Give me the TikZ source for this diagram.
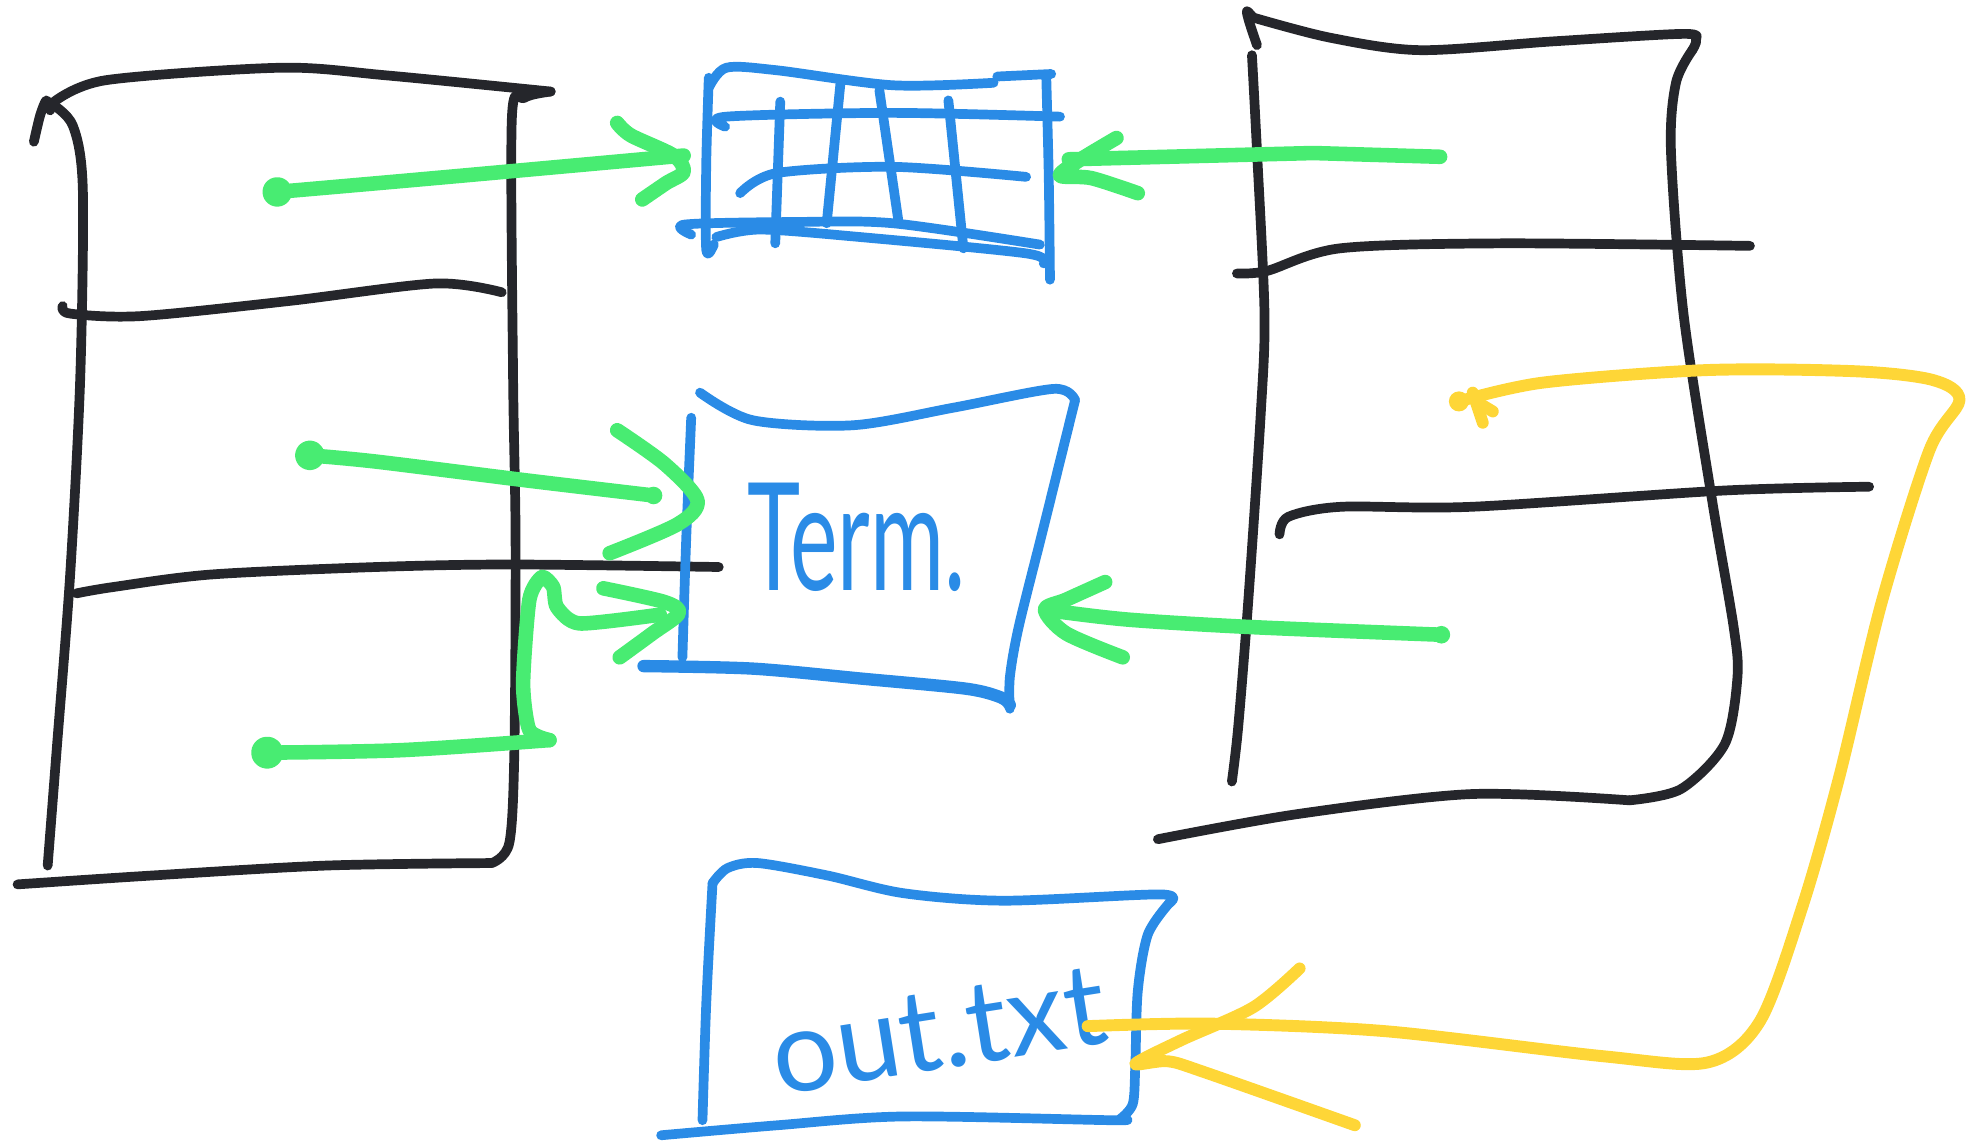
\documentclass[tikz,border=0pt]{standalone}
\usepackage{fontspec}
\setsansfont{Lato}
\usetikzlibrary{positioning, calc}
\definecolor{inkBlack}{RGB}{37, 38, 43}
\definecolor{inkBlue}{RGB}{42, 139, 230}
\definecolor{inkGreen}{RGB}{72, 236, 114}
\definecolor{inkYellow}{RGB}{254, 214, 55}
\tikzstyle{pen} = [line cap=round, line join=round]
\tikzstyle{blackpen} = [pen, draw=inkBlack, line width=2.2pt]
\tikzstyle{bluepen} = [pen, draw=inkBlue, line width=2.2pt]
\tikzstyle{greenpen} = [pen, draw=inkGreen, line width=3.3pt]
\tikzstyle{yellowpen} = [pen, draw=inkYellow, line width=2.7pt]
\tikzstyle{handtext} = [text=inkBlue, inner sep=0pt]

\begin{document}
\begin{tikzpicture}[x=0.01cm, y=-0.01cm]
	\useasboundingbox (0,0) rectangle (1568,910);

	% left table
	\draw[blackpen] plot[smooth] coordinates {(27,113) (32,92) (37,80) (40,88)};
	\draw[blackpen] plot[smooth] coordinates {(42,82) (84,64) (224,54) (307,60) (439,73)};
	\draw[blackpen] plot[smooth] coordinates {(439,73) (418,78) (408,95) (409,300) (411,430) (410,600) (406,672) (392,688)};
	\draw[blackpen] plot[smooth] coordinates {(40,82) (58,100) (66,150) (64,300) (56,457) (45,600) (38,690)};
	\draw[blackpen] plot[smooth] coordinates {(14,705) (120,698) (260,690) (392,688)};
	\draw[blackpen] plot[smooth] coordinates {(50,244) (56,250) (112,252) (230,240) (347,226) (400,233)};
	\draw[blackpen] plot[smooth] coordinates {(61,473) (90,468) (168,458) (300,452) (408,450) (573,452)};

	% right table
	\draw[blackpen] plot[smooth] coordinates {(1002,36) (996,18) (994,9) (999,14)};
	\draw[blackpen] plot[smooth] coordinates {(999,14) (1060,30) (1132,40) (1238,33) (1342,27) (1352,32) (1349,40)};
	\draw[blackpen] plot[smooth] coordinates {(1349,40) (1336,66) (1332,120) (1342,250) (1365,400) (1382,500) (1385,540) (1375,593) (1340,629) (1299,638)};
	\draw[blackpen] plot[smooth] coordinates {(1299,638) (1173,633) (1034,649) (923,669)};
	\draw[blackpen] plot[smooth] coordinates {(998,44) (1002,120) (1008,250) (1005,330) (995,480) (987,580) (982,623)};
	\draw[blackpen] plot[smooth] coordinates {(986,218) (1010,216) (1068,198) (1196,194) (1395,196)};
	\draw[blackpen] plot[smooth] coordinates {(1020,426) (1027,412) (1069,404) (1173,404) (1375,391) (1490,388)};

	% grid
	\draw[bluepen] plot[smooth] coordinates {(565,70) (579,54) (619,56) (712,68) (792,66)};
	\draw[bluepen] (795,61) -- (838,59);
	\draw[bluepen] plot[smooth] coordinates {(565,62) (563,130) (563,199) (569,195)};
	\draw[bluepen] plot[smooth] coordinates {(834,60) (836,140) (837,223)};
	\draw[bluepen] plot[smooth] coordinates {(578,101) (579,93) (712,90) (845,93)};
	\draw[bluepen] plot[smooth] coordinates {(590,154) (619,138) (712,133) (818,141)};
	\draw[bluepen] plot[smooth] coordinates {(551,187) (546,179) (632,177) (712,178) (829,195)};
	\draw[bluepen] plot[smooth] coordinates {(571,189) (606,183) (686,189) (818,202) (832,210)};
	\draw[bluepen] (622,81) -- (618,194);
	\draw[bluepen] (670,66) -- (659,178);
	\draw[bluepen] (701,72) -- (716,175);
	\draw[bluepen] (756,80) -- (768,198);

	% terminal
	\draw[bluepen] plot[smooth] coordinates {(558,313) (600,335) (680,339) (760,325) (840,310) (857,319)};
	\draw[bluepen] plot[smooth] coordinates {(857,319) (832,420) (812,500) (805,540) (805,565)};
	\draw[bluepen] plot[smooth] coordinates {(551,333) (547,430) (544,524)};
	\draw[bluepen, line width=2.8pt] plot[smooth] coordinates {(513,531) (600,533) (687,541) (770,549) (798,556) (805,562)};
	\node (term) [handtext, xscale=0.6, font=\sffamily\fontsize{34}{34}\selectfont] at (683,428) {Term.};

	% out.txt
	\draw[bluepen] plot[smooth] coordinates {(568,704) (580,692) (604,688) (660,698) (720,712) (800,718) (925,713) (932,720)};
	\draw[bluepen] plot[smooth] coordinates {(932,720) (915,745) (907,790) (905,850) (903,880) (893,892)};
	\draw[bluepen] plot[smooth] coordinates {(568,704) (563,800) (560,893)};
	\draw[bluepen] plot[smooth] coordinates {(527,905) (620,897) (720,890) (886,893) (893,892)};
	\node (outfile) [handtext, rotate=9, font=\sffamily\fontsize{26}{26}\selectfont] at (748,822) {out.txt};

	% green pointers
	\coordinate (fdzero) at (221,153);
	\coordinate (gridL) at (545,124);
	\draw[greenpen] (fdzero) circle (6);
	\draw[greenpen] (fdzero) .. controls (336,143) .. (gridL);
	\draw[greenpen] plot[smooth] coordinates {(492,98) (503,108) (537,124) (545,137) (531,146) (512,159)};

	\coordinate (rfdzero) at (1148,125);
	\coordinate (gridR) at (852,127);
	\draw[greenpen] (rfdzero) -- (1047,122) -- (gridR);
	\draw[greenpen] plot[smooth] coordinates {(890,110) (860,128) (845,140) (870,142) (907,154)};

	\coordinate (fdone) at (247,363);
	\coordinate (termA) at (521,395);
	\draw[greenpen] (fdone) circle (6);
	\draw[greenpen] plot[smooth] coordinates {(fdone) (300,368) (420,383) (termA)};
	\fill[inkGreen] (termA) circle (7);
	\draw[greenpen] plot[smooth] coordinates {(492,343) (530,370) (556,399) (540,418) (486,441)};

	\coordinate (fdtwo) at (213,600);
	\coordinate (termB) at (526,490);
	\draw[greenpen] (fdtwo) circle (7);
	\draw[greenpen] plot[smooth] coordinates {(fdtwo) (320,598) (438,590)};
	\draw[greenpen] plot[smooth, tension=0.4] coordinates {(438,590) (422,582) (417,545) (422,478) (432,460) (441,468) (444,484) (462,497) (termB)};
	\draw[greenpen] plot[smooth] coordinates {(481,469) (530,480) (541,489) (520,505) (494,524)};

	\coordinate (rfdone) at (1149,506);
	\coordinate (termR) at (840,487);
	\draw[greenpen] plot[smooth] coordinates {(rfdone) (1000,500) (900,494) (termR)};
	\fill[inkGreen] (rfdone) circle (7);
	\draw[greenpen] plot[smooth] coordinates {(881,464) (850,478) (833,486) (850,505) (895,524)};

	% yellow pointer
	\coordinate (rfdtwo) at (1163,320);
	\coordinate (fileR) at (867,818);
	\fill[inkYellow] (rfdtwo) circle (8);
	\draw[yellowpen] (1174,313) -- (1182,337);
	\draw[yellowpen] (1180,322) -- (1190,328);
	\draw[yellowpen] plot[smooth] coordinates {(rfdtwo) (1230,305) (1361,295) (1480,296) (1541,303) (1562,319) (1538,359) (1500,480) (1466,620) (1437,722) (1403,814) (1361,847) (1278,842) (1104,822) (965,816) (fileR)};
	\draw[yellowpen] plot[smooth] coordinates {(1036,772) (999,803) (942,829) (905,848) (931,846) (961,855) (1080,897)};
\end{tikzpicture}
\end{document}
